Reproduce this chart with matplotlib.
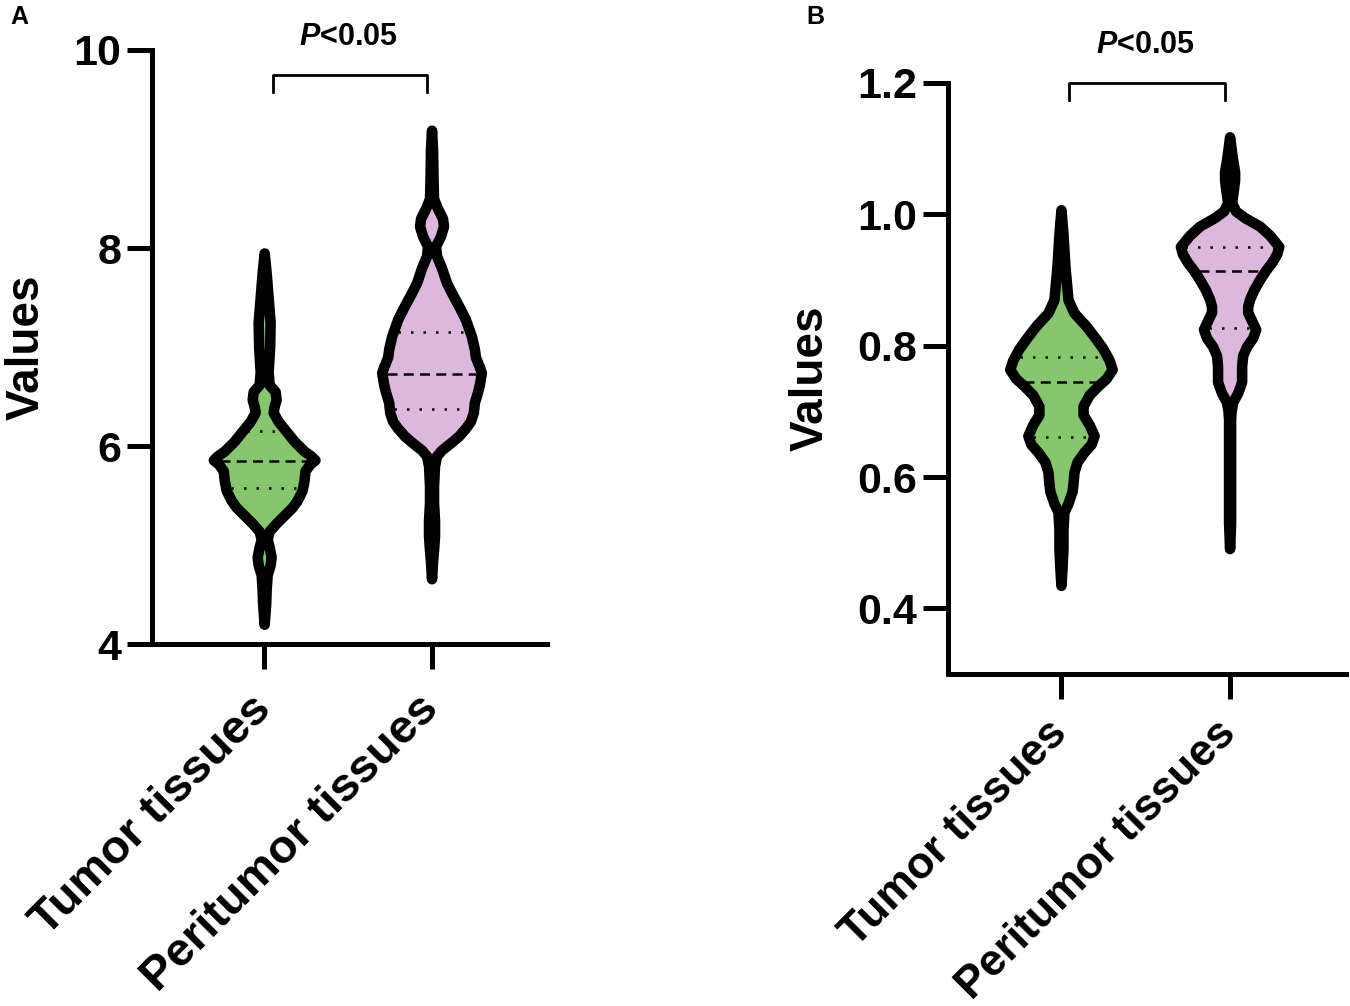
import numpy as np
import matplotlib
matplotlib.use("Agg")
import matplotlib.pyplot as plt

plt.rcParams['font.family'] = ['Liberation Sans', 'DejaVu Sans']
plt.rcParams['font.weight'] = 'bold'
plt.rcParams['mathtext.fontset'] = 'custom'
plt.rcParams['mathtext.it'] = 'Liberation Sans:italic:bold'
plt.rcParams['mathtext.rm'] = 'Liberation Sans:bold'

groups = ['Tumor tissues', 'Peritumor tissues']
colors = ['#86c76e', '#dcb9dc']

# violin outlines: value, half width (pixels at 168 px per category)
a_tumor_y = [7.95, 7.75, 7.5, 7.25, 7.0, 6.75, 6.62, 6.55, 6.47, 6.40, 6.34, 6.25, 6.15, 6.05,
             5.95, 5.90, 5.86, 5.82, 5.75, 5.65, 5.55, 5.45, 5.38, 5.30, 5.22, 5.14, 5.06,
             4.98, 4.88, 4.80, 4.70, 4.55, 4.40, 4.20]
a_tumor_w = [0, 2, 4, 6, 5.5, 4, 5, 11, 12, 10, 9, 14, 22, 30,
             40, 47, 51, 46, 41, 40, 38, 33, 28, 20, 12, 5, 3,
             5, 7, 6, 3, 2, 1.5, 0]
a_peri_y = [9.19, 9.0, 8.7, 8.5, 8.40, 8.30, 8.22, 8.12, 8.02, 7.92, 7.80, 7.65, 7.55, 7.42,
            7.28, 7.11, 6.98, 6.90, 6.80, 6.74, 6.62, 6.54, 6.44, 6.34, 6.25, 6.18, 6.10,
            6.04, 5.96, 5.90, 5.80, 5.60, 5.43, 5.25, 5.09, 4.95, 4.83, 4.66]
a_peri_w = [0, 1, 1.5, 2, 6, 11, 12, 9, 4, 5, 10, 15, 20, 27,
            34, 40, 43, 44, 48, 50, 48, 46, 43, 42, 39, 34, 27,
            20, 10, 5, 3, 2, 2, 3, 3, 2, 1, 0]
b_tumor_y = [1.007, 0.97, 0.92, 0.87, 0.85, 0.83, 0.81, 0.795, 0.778, 0.764, 0.750, 0.739,
             0.725, 0.708, 0.695, 0.680, 0.663, 0.650, 0.638, 0.623, 0.608, 0.590, 0.578,
             0.560, 0.547, 0.52, 0.491, 0.46, 0.435]
b_tumor_w = [0, 2, 4, 7, 13, 25, 35, 42, 48, 51, 45, 37,
             28, 22, 22, 28, 33, 30, 23, 16, 13, 12, 11,
             7, 3, 2, 2, 1, 0]
b_peri_y = [1.118, 1.10, 1.083, 1.065, 1.053, 1.040, 1.018, 1.005, 0.995, 0.982, 0.968, 0.951,
            0.940, 0.927, 0.915, 0.901, 0.885, 0.871, 0.860, 0.851, 0.838, 0.825, 0.812,
            0.799, 0.785, 0.769, 0.745, 0.728, 0.714, 0.700, 0.688, 0.587, 0.530, 0.491]
b_peri_w = [0, 1.5, 3, 5, 5, 4, 2, 6, 15, 30, 40, 49,
            47, 42, 36, 30, 24, 20, 18, 18, 22, 26, 23,
            17, 13, 12, 12, 8, 3, 1.5, 1, 1, 1, 0]

# median, lower quartile, upper quartile
a_stats = [(5.85, 5.58, 6.15), (6.73, 6.37, 7.15)]
b_stats = [(0.745, 0.661, 0.783), (0.913, 0.827, 0.951)]

px = 168.0


def draw_violin(ax, pos, y, w, color, stats):
    y = np.array(y)
    w = np.array(w) / px
    ax.fill_betweenx(y, pos - w, pos + w, facecolor=color, edgecolor='black',
                     linewidth=7.6, joinstyle='round', capstyle='round', zorder=3)
    order = np.argsort(y)
    for val, ls in zip(stats, [(0, (4, 2.5)), (0, (1, 4)), (0, (1, 4))]):
        half = np.interp(val, y[order], w[order]) - 0.03
        ax.plot([pos - half, pos + half], [val, val], color='black', lw=1.8,
                linestyle=ls, zorder=4, solid_capstyle='butt', dash_capstyle='butt')


fig = plt.figure(figsize=(13.5, 10.06), dpi=100)
axA = fig.add_axes([0.1126, 0.3598, 0.2926, 0.5905])
axB = fig.add_axes([0.7022, 0.33, 0.2948, 0.5875])

panels = [
    (axA, [(a_tumor_y, a_tumor_w), (a_peri_y, a_peri_w)], a_stats, (4, 10), [4, 6, 8, 10],
     ['4', '6', '8', '10'], (9.748, 9.576), 10.13, 34, 24),
    (axB, [(b_tumor_y, b_tumor_w), (b_peri_y, b_peri_w)], b_stats, (0.3, 1.2),
     [0.4, 0.6, 0.8, 1.0, 1.2], ['0.4', '0.6', '0.8', '1.0', '1.2'], (1.2, 1.174), 1.258, 32, 20),
]

for ax, shapes, stats, ylim, yt, ytl, br, ptxt, xfs, xpad in panels:
    for i, (yy, ww) in enumerate(shapes):
        draw_violin(ax, i, yy, ww, colors[i], stats[i])
    ax.set_xlim(-0.67, 1.69)
    ax.set_ylim(*ylim)
    ax.set_yticks(yt)
    ax.set_yticklabels(ytl, fontsize=31, fontweight='bold')
    ax.set_xticks([0, 1])
    ax.set_xticklabels(groups, fontsize=xfs, fontweight='bold', rotation=45,
                       ha='right', va='center', rotation_mode='anchor')
    ax.tick_params(axis='y', length=18, width=3.6, pad=4)
    ax.tick_params(axis='x', length=18, width=3.6, pad=xpad)
    for s in ['top', 'right']:
        ax.spines[s].set_visible(False)
    for s in ['left', 'bottom']:
        ax.spines[s].set_linewidth(3.6)
    ax.set_ylabel('Values', fontsize=33, fontweight='bold', labelpad=18)
    ax.plot([0.05, 0.05, 0.975, 0.975], [br[1], br[0], br[0], br[1]], color='black',
            lw=2, clip_on=False, zorder=5)
    ax.text(0.5, ptxt, r'$P$<0.05', ha='center', va='center', fontsize=22,
            fontweight='bold', clip_on=False)

fig.text(10 / 1350, 1 - 5 / 1006, 'A', fontsize=18, fontweight='bold', ha='left', va='top')
fig.text(806 / 1350, 1 - 5 / 1006, 'B', fontsize=18, fontweight='bold', ha='left', va='top')

fig.savefig('out.png', dpi=100)
